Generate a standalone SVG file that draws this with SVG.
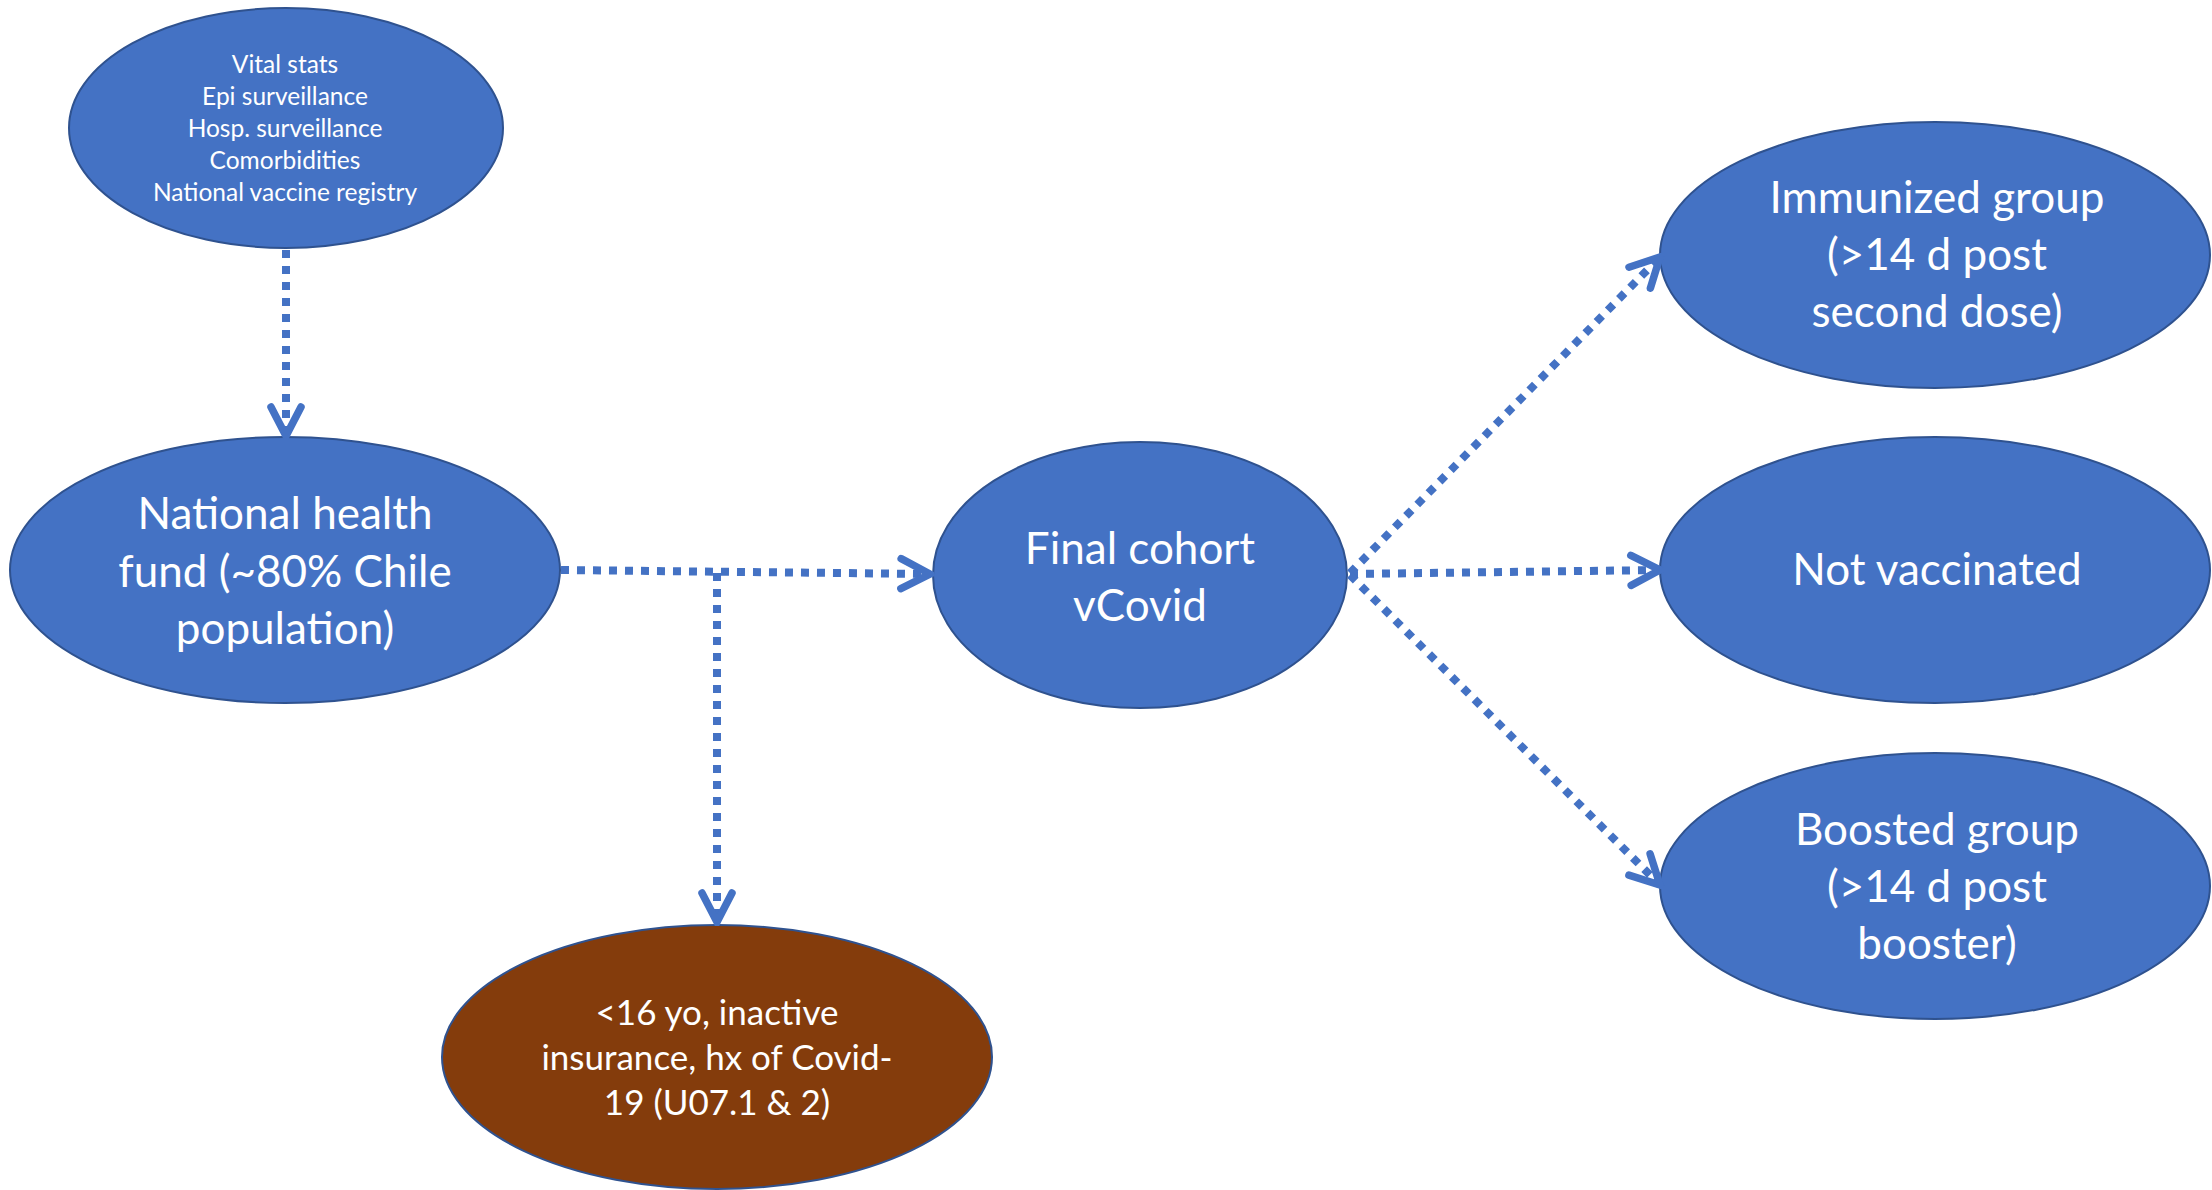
<svg xmlns="http://www.w3.org/2000/svg" width="2212" height="1190" viewBox="0 0 2212 1190">
  <style>
    .node { fill: #4472C4; stroke: #2F528F; stroke-width: 2; }
    .node.brown { fill: #843C0C; }
    .lbl { font-family: Lato, "Liberation Sans", sans-serif; fill: #FFFFFF; text-anchor: middle; }
    .sm { font-size: 24.5px; }
    .lg { font-size: 44px; }
    .md { font-size: 35px; }
    .conn { fill: none; stroke: #4472C4; stroke-width: 8; stroke-dasharray: 8 8; }
  </style>
  <defs>
    <marker id="arrow" viewBox="-36 -20 40 40" markerWidth="40" markerHeight="40" refX="0" refY="0" markerUnits="userSpaceOnUse" orient="auto">
      <path d="M -29 -15 L 0 0 L -29 15" fill="none" stroke="#4472C4" stroke-width="7.5" stroke-linecap="round" stroke-linejoin="miter" stroke-dasharray="none"/>
    </marker>
  </defs>
  <rect width="2212" height="1190" fill="#FFFFFF"/>

  <g id="n-sources">
    <ellipse class="node" cx="286" cy="128" rx="217" ry="120"/>
    <text class="lbl sm" x="285" y="73">Vital stats</text>
    <text class="lbl sm" x="285" y="105">Epi surveillance</text>
    <text class="lbl sm" x="285" y="137">Hosp. surveillance</text>
    <text class="lbl sm" x="285" y="169">Comorbidities</text>
    <text class="lbl sm" x="285" y="201">National vaccine registry</text>
  </g>

  <g id="n-fund">
    <ellipse class="node" cx="285" cy="570" rx="275" ry="133"/>
    <text class="lbl lg" x="285" y="529">National health</text>
    <text class="lbl lg" x="285" y="586.5">fund (~80% Chile</text>
    <text class="lbl lg" x="285" y="644">population)</text>
  </g>

  <g id="n-final">
    <ellipse class="node" cx="1140" cy="575" rx="207" ry="133"/>
    <text class="lbl lg" x="1140" y="564">Final cohort</text>
    <text class="lbl lg" x="1140" y="621">vCovid</text>
  </g>

  <g id="n-immunized">
    <ellipse class="node" cx="1935" cy="255" rx="275" ry="133"/>
    <text class="lbl lg" x="1937" y="213">Immunized group</text>
    <text class="lbl lg" x="1937" y="270">(&gt;14 d post</text>
    <text class="lbl lg" x="1937" y="327">second dose)</text>
  </g>

  <g id="n-notvacc">
    <ellipse class="node" cx="1935" cy="570" rx="275" ry="133"/>
    <text class="lbl lg" x="1937" y="585">Not vaccinated</text>
  </g>

  <g id="n-boosted">
    <ellipse class="node" cx="1935" cy="886" rx="275" ry="133"/>
    <text class="lbl lg" x="1937" y="845">Boosted group</text>
    <text class="lbl lg" x="1937" y="902">(&gt;14 d post</text>
    <text class="lbl lg" x="1937" y="959">booster)</text>
  </g>

  <g id="n-excluded">
    <ellipse class="node brown" cx="717" cy="1057" rx="275" ry="132"/>
    <text class="lbl md" x="717" y="1025">&lt;16 yo, inactive</text>
    <text class="lbl md" x="717" y="1070">insurance, hx of Covid-</text>
    <text class="lbl md" x="717" y="1115">19 (U07.1 &amp; 2)</text>
  </g>

  <g id="connectors">
    <line class="conn" x1="286" y1="250" x2="286" y2="436" marker-end="url(#arrow)"/>
    <line class="conn" x1="561" y1="570" x2="930" y2="574" marker-end="url(#arrow)"/>
    <line class="conn" x1="717" y1="573" x2="717" y2="922" marker-end="url(#arrow)"/>
    <line class="conn" x1="1350" y1="573" x2="1660" y2="257" marker-end="url(#arrow)"/>
    <line class="conn" x1="1350" y1="574" x2="1660" y2="570" marker-end="url(#arrow)"/>
    <line class="conn" x1="1350" y1="575" x2="1660" y2="885" marker-end="url(#arrow)"/>
  </g>
</svg>
